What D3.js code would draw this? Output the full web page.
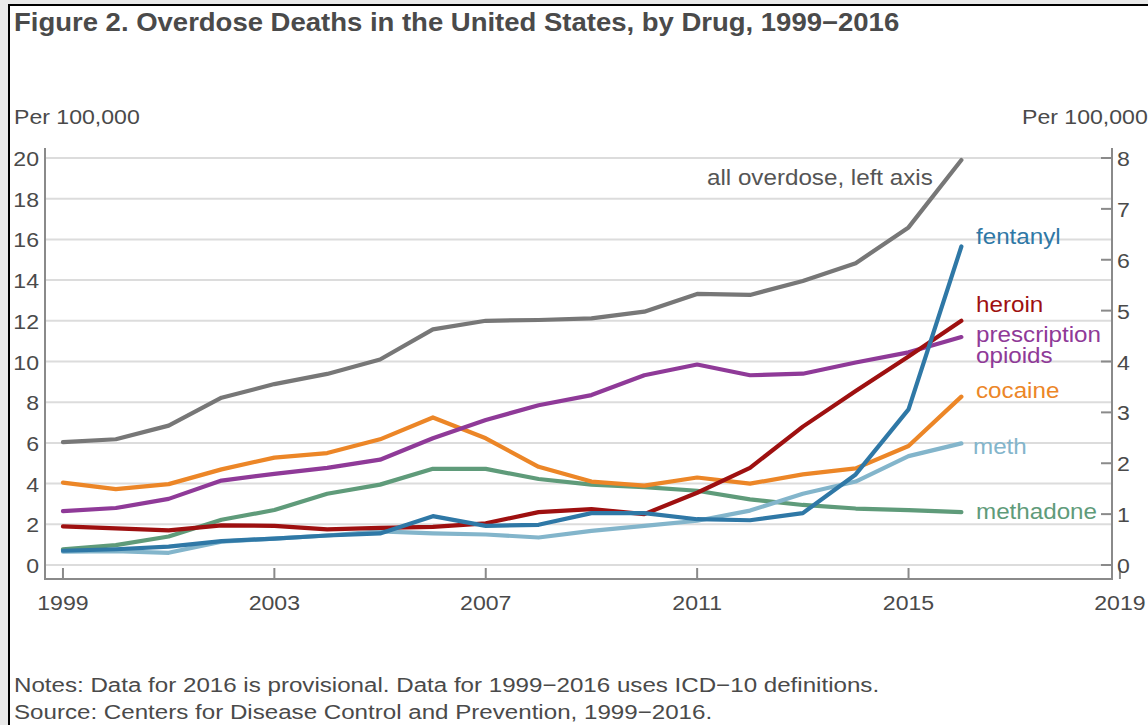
<!DOCTYPE html>
<html>
<head>
<meta charset="utf-8">
<script src="https://cdn.jsdelivr.net/npm/d3@7"></script>
<style>
  html, body { margin: 0; padding: 0; background: #ffffff; overflow: hidden; }
  svg { display: block; font-family: "Liberation Sans", Arial, sans-serif; }
</style>
</head>
<body>
<svg id="chart" width="1148" height="725"></svg>
<script>
// ---- Data (per 100,000) ----
const years = [1999,2000,2001,2002,2003,2004,2005,2006,2007,2008,2009,2010,2011,2012,2013,2014,2015,2016];
// left axis
const allOverdose = [6.04,6.18,6.85,8.22,8.89,9.39,10.1,11.58,12.0,12.04,12.12,12.45,13.32,13.27,13.96,14.83,16.59,19.9];
// right axis
const fentanyl     = [0.28,0.31,0.36,0.47,0.52,0.58,0.62,0.96,0.77,0.79,1.02,1.02,0.90,0.88,1.02,1.78,3.06,6.26];
const heroin       = [0.76,0.72,0.68,0.78,0.77,0.70,0.73,0.75,0.82,1.04,1.10,1.00,1.42,1.91,2.72,3.42,4.10,4.80];
const rxOpioids    = [1.06,1.12,1.30,1.66,1.79,1.91,2.07,2.49,2.85,3.14,3.34,3.73,3.94,3.73,3.76,3.98,4.18,4.48];
const cocaine      = [1.62,1.49,1.59,1.88,2.11,2.20,2.47,2.90,2.49,1.93,1.64,1.56,1.72,1.60,1.78,1.90,2.34,3.31];
const meth         = [0.26,0.27,0.24,0.46,0.52,0.58,0.66,0.62,0.60,0.54,0.67,0.77,0.87,1.07,1.40,1.64,2.14,2.39];
const methadone    = [0.31,0.39,0.56,0.89,1.08,1.40,1.58,1.89,1.89,1.69,1.58,1.53,1.46,1.29,1.18,1.11,1.08,1.04];

const xTicks = [1999,2003,2007,2011,2015,2019];
const leftTicks = [0,2,4,6,8,10,12,14,16,18,20];
const rightTicks = [0,1,2,3,4,5,6,7,8];

const title = "Figure 2. Overdose Deaths in the United States, by Drug, 1999\u22122016";
const notes = "Notes: Data for 2016 is provisional. Data for 1999\u22122016 uses ICD\u221210 definitions.";
const source = "Source: Centers for Disease Control and Prevention, 1999\u22122016.";

const series = [
  {name: "all overdose, left axis", values: allOverdose, axis: "left",  color: "#777777", label: ["all overdose, left axis"], lx: 707, ly: 177},
  {name: "fentanyl",   values: fentanyl,  axis: "right", color: "#2f78a6", label: ["fentanyl"], lx: 976, ly: 236},
  {name: "heroin",     values: heroin,    axis: "right", color: "#9e1010", label: ["heroin"], lx: 976, ly: 304},
  {name: "prescription opioids", values: rxOpioids, axis: "right", color: "#8f3a98", label: ["prescription","opioids"], lx: 976, ly: 334},
  {name: "cocaine",    values: cocaine,   axis: "right", color: "#ec8627", label: ["cocaine"], lx: 976, ly: 390},
  {name: "meth",       values: meth,      axis: "right", color: "#83b5cb", label: ["meth"], lx: 973, ly: 446},
  {name: "methadone",  values: methadone, axis: "right", color: "#5f9b7a", label: ["methadone"], lx: 976, ly: 511}
];

// ---- Layout ----
const svg = d3.select("#chart");
const textColor = "#4a4a4a";
const SX = 1.1; // horizontal stretch of the reference's lettering

function stretchedText(parent, x, y, str, size, opts = {}) {
  const g = parent.append("g").attr("transform", `translate(${x},${y}) scale(${opts.sx || SX},1)`);
  return g.append("text").attr("x", 0).attr("y", 0)
    .attr("font-size", size)
    .attr("font-weight", opts.weight || "normal")
    .attr("text-anchor", opts.anchor || "start")
    .attr("fill", opts.fill || textColor)
    .text(str);
}

// background outside frame
svg.append("rect").attr("x",0).attr("y",0).attr("width",1148).attr("height",725).attr("fill","#e9e9e9");
svg.append("rect").attr("x",9).attr("y",5).attr("width",1139).attr("height",720).attr("fill","#ffffff");
svg.append("line").attr("x1",9).attr("x2",9).attr("y1",5).attr("y2",725).attr("stroke","#000").attr("stroke-width",2);
svg.append("line").attr("x1",8).attr("x2",1148).attr("y1",5).attr("y2",5).attr("stroke","#000").attr("stroke-width",2);

const x = d3.scaleLinear().domain([1998.66, 2018.85]).range([45, 1112]);
const yL = d3.scaleLinear().domain([0, 20]).range([565, 158]);
const yR = d3.scaleLinear().domain([0, 8]).range([565, 158]);

// gridlines
svg.append("g").selectAll("line").data(leftTicks).join("line")
  .attr("x1", 45).attr("x2", 1112)
  .attr("y1", d => yL(d)).attr("y2", d => yL(d))
  .attr("stroke", "#dcdcdc").attr("stroke-width", 2);

// axes lines
const axisColor = "#8a8a8a";
svg.append("line").attr("x1",45).attr("x2",45).attr("y1",148).attr("y2",580).attr("stroke",axisColor).attr("stroke-width",2);
svg.append("line").attr("x1",1112).attr("x2",1112).attr("y1",148).attr("y2",580).attr("stroke",axisColor).attr("stroke-width",2);
svg.append("line").attr("x1",44).attr("x2",1113).attr("y1",579).attr("y2",579).attr("stroke",axisColor).attr("stroke-width",2);

// x ticks (upward)
svg.append("g").selectAll("line").data(xTicks).join("line")
  .attr("x1", d => x(d)).attr("x2", d => x(d))
  .attr("y1", 568).attr("y2", 579)
  .attr("stroke", axisColor).attr("stroke-width", 2);
const xl = svg.append("g");
xTicks.forEach(d => stretchedText(xl, x(d), 610, d, 21, {anchor: "middle"}));

// left labels
const ll = svg.append("g");
leftTicks.forEach(d => stretchedText(ll, 39, yL(d) + 8, d, 21, {anchor: "end"}));

// right ticks
svg.append("g").selectAll("line").data(rightTicks).join("line")
  .attr("x1", 1101).attr("x2", 1112)
  .attr("y1", d => yR(d)).attr("y2", d => yR(d))
  .attr("stroke", axisColor).attr("stroke-width", 2);
const rl = svg.append("g");
rightTicks.forEach(d => stretchedText(rl, 1117, yR(d) + 8, d, 21));

// axis unit labels
stretchedText(svg, 14, 124, "Per 100,000", 21);
stretchedText(svg, 1022, 124, "Per 100,000", 21);

// lines
const lineGen = (scale) => d3.line().x((d,i) => x(years[i])).y(d => scale(d));
svg.append("g").selectAll("path").data(series.slice().reverse()).join("path")
  .attr("d", s => lineGen(s.axis === "left" ? yL : yR)(s.values))
  .attr("fill", "none")
  .attr("stroke", s => s.color)
  .attr("stroke-width", 4.2)
  .attr("stroke-linejoin", "round")
  .attr("stroke-linecap", "round");

// series labels
series.forEach(s => {
  s.label.forEach((ln, i) => {
    stretchedText(svg, s.lx, s.ly + 8 + i * 21, ln, 22,
      {fill: s.name.startsWith("all") ? "#555555" : s.color});
  });
});

// title
stretchedText(svg, 14, 31, title, 25, {weight: "bold", fill: "#4a4a4a"});

// notes
stretchedText(svg, 14, 692, notes, 21, {sx: 1.15});
stretchedText(svg, 14, 719, source, 21, {sx: 1.15});
</script>
</body>
</html>
